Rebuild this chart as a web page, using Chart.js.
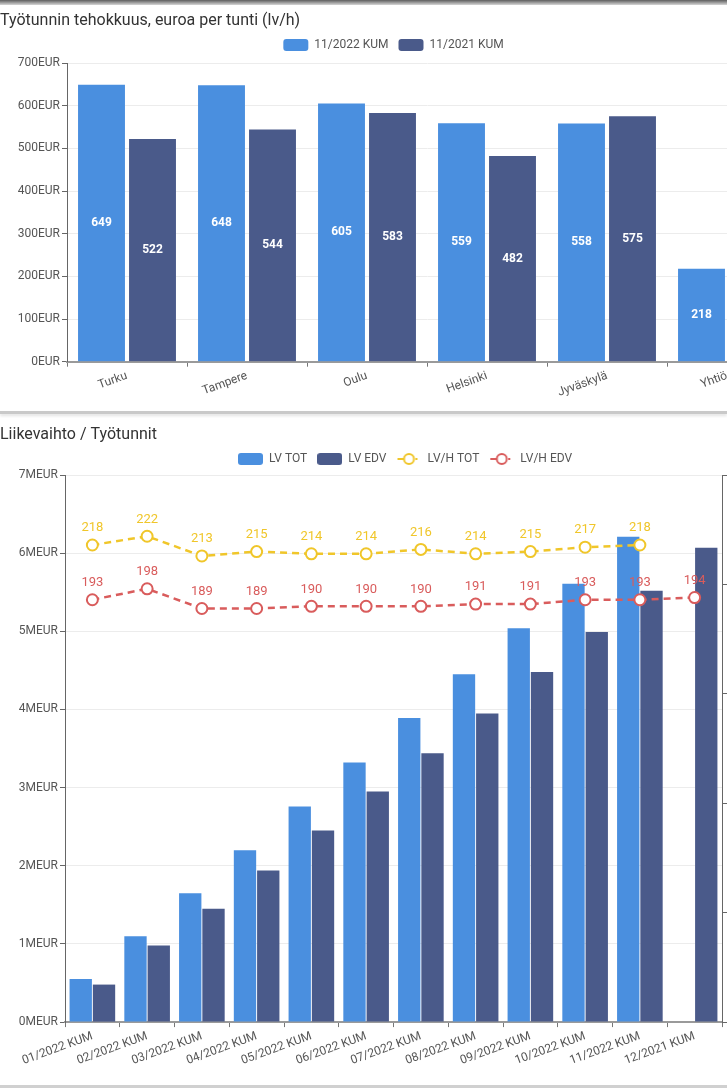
<!DOCTYPE html>
<html>
<head>
<meta charset="utf-8">
<script src="https://cdn.jsdelivr.net/npm/chart.js@4.4.1/dist/chart.umd.min.js"></script>
<style>
  body { margin: 0; width: 727px; height: 1089px; overflow: hidden; background: #fff; font-family: Roboto, sans-serif; }
  .topbar { height: 5px; background: linear-gradient(#5e5e5e, #d6d6d6); }
  .card { position: relative; overflow: hidden; background: #fff; }
  .sep { height: 3px; background: #c9c9c9; box-shadow: 0 2px 3px #e2e2e2; margin-bottom: 4px; }
  .bottom { height: 3px; background: #d0d0d0; }
  canvas { display: block; }
</style>
</head>
<body>
<div class="topbar"></div>
<div class="card" style="height:406px"><canvas id="chart1" width="812" height="406" style="width:812px;height:406px"></canvas></div>
<div class="sep"></div>
<div class="card" style="height:667px"><canvas id="chart2" width="810" height="667" style="width:810px;height:667px"></canvas></div>
<div class="bottom"></div>
<script>
// chart 1 data
const cities = ['Turku', 'Tampere', 'Oulu', 'Helsinki', 'Jyväskylä', 'Yhtiö'];
const eurPerHour2022 = [649, 648, 605, 559, 558, 218];
const eurPerHour2021 = [522, 544, 583, 482, 575, null];

// chart 2 data
const months = ['01/2022 KUM', '02/2022 KUM', '03/2022 KUM', '04/2022 KUM', '05/2022 KUM', '06/2022 KUM',
  '07/2022 KUM', '08/2022 KUM', '09/2022 KUM', '10/2022 KUM', '11/2022 KUM', '12/2021 KUM'];
const lvTot = [0.55, 1.10, 1.65, 2.20, 2.76, 3.32, 3.89, 4.45, 5.04, 5.61, 6.21, null]; // MEUR
const lvEdv = [0.48, 0.98, 1.45, 1.94, 2.45, 2.95, 3.44, 3.95, 4.48, 4.99, 5.52, 6.07]; // MEUR
const lvhTot = [218, 222, 213, 215, 214, 214, 216, 214, 215, 217, 218, null];
const lvhEdv = [193, 198, 189, 189, 190, 190, 190, 191, 191, 193, 193, 194];

const BLUE = '#4a8fdf';
const NAVY = '#4a5a8a';
const YELLOW = '#f0c62a';
const RED = '#d95c5c';
const FONT = 'Roboto';

Chart.defaults.font.family = FONT;
Chart.defaults.font.size = 12;
Chart.defaults.color = '#555';

// value labels in the middle of the bars (chart 1)
const barValueLabels = {
  id: 'barValueLabels',
  afterDatasetsDraw(chart) {
    const ctx = chart.ctx;
    ctx.save();
    ctx.font = 'bold 12px ' + FONT;
    ctx.fillStyle = '#fff';
    ctx.textAlign = 'center';
    ctx.textBaseline = 'middle';
    chart.data.datasets.forEach((ds, i) => {
      chart.getDatasetMeta(i).data.forEach((bar, j) => {
        if (ds.data[j] == null) return;
        const p = bar.getProps(['x', 'y', 'base'], true);
        ctx.fillText(ds.data[j], p.x, (p.y + p.base) / 2);
      });
    });
    ctx.restore();
  }
};

// value labels above the line points (chart 2)
const pointValueLabels = {
  id: 'pointValueLabels',
  afterDatasetsDraw(chart) {
    const ctx = chart.ctx;
    ctx.save();
    ctx.font = '13px ' + FONT;
    ctx.textAlign = 'center';
    ctx.textBaseline = 'middle';
    chart.data.datasets.forEach((ds, i) => {
      if (ds.type !== 'line') return;
      ctx.fillStyle = ds.borderColor;
      chart.getDatasetMeta(i).data.forEach((pt, j) => {
        if (ds.data[j] == null) return;
        ctx.fillText(Math.round(ds.data[j]), pt.x, pt.y - 17);
      });
    });
    ctx.restore();
  }
};

// a bit more room between legend and plot
const legendGap = (extra) => ({
  id: 'legendGap',
  beforeInit(chart) {
    const fit = chart.legend.fit;
    chart.legend.fit = function () {
      fit.call(this);
      this.height += extra;
    };
  }
});

function boxIcon(color) {
  const c = document.createElement('canvas');
  c.width = 25; c.height = 12;
  const g = c.getContext('2d');
  g.fillStyle = color;
  g.beginPath();
  g.roundRect(0, 0, 25, 12, 3);
  g.fill();
  return c;
}
function lineIcon(color) {
  const c = document.createElement('canvas');
  c.width = 25; c.height = 14;
  const g = c.getContext('2d');
  g.strokeStyle = color;
  g.lineWidth = 2;
  g.beginPath(); g.moveTo(1, 7); g.lineTo(7, 7); g.stroke();
  g.beginPath(); g.moveTo(19, 7); g.lineTo(21, 7); g.stroke();
  g.fillStyle = '#fff';
  g.beginPath(); g.arc(12.5, 7, 5, 0, Math.PI * 2); g.fill(); g.stroke();
  return c;
}

new Chart(document.getElementById('chart1'), {
  type: 'bar',
  data: {
    labels: cities,
    datasets: [
      { label: '11/2022 KUM', data: eurPerHour2022, backgroundColor: BLUE, borderColor: BLUE, borderWidth: 0,
        categoryPercentage: 0.85, barPercentage: 0.92 },
      { label: '11/2021 KUM', data: eurPerHour2021, backgroundColor: NAVY, borderColor: NAVY, borderWidth: 0,
        categoryPercentage: 0.85, barPercentage: 0.92 }
    ]
  },
  options: {
    responsive: false,
    animation: false,
    layout: { padding: { left: 0, right: 25, top: 0, bottom: 9 } },
    scales: {
      x: {
        grid: { drawOnChartArea: false, tickLength: 5, tickColor: '#777' },
        border: { color: '#9a9a9a', width: 2 },
        ticks: { minRotation: 20, maxRotation: 20, padding: 2, color: '#555' }
      },
      y: {
        min: 0, max: 700,
        afterFit(scale) { scale.width = 67; },
        grid: { color: '#ececec', tickLength: 5, tickColor: '#666' },
        border: { color: '#666' },
        ticks: { stepSize: 100, padding: 2, color: '#555', callback: v => v + 'EUR' }
      }
    },
    plugins: {
      title: {
        display: true, text: 'Työtunnin tehokkuus, euroa per tunti (lv/h)', align: 'start',
        color: '#333', font: { size: 16, weight: 'normal', lineHeight: 1 }, padding: { top: 8, bottom: 0 }
      },
      legend: {
        labels: { boxWidth: 25, boxHeight: 12, useBorderRadius: true, borderRadius: 3, color: '#555' }
      },
      tooltip: { enabled: false }
    }
  },
  plugins: [barValueLabels, legendGap(2)]
});

const legendIcons = [boxIcon(BLUE), boxIcon(NAVY), lineIcon(YELLOW), lineIcon(RED)];

new Chart(document.getElementById('chart2'), {
  type: 'bar',
  data: {
    labels: months,
    datasets: [
      { label: 'LV TOT', data: lvTot, backgroundColor: BLUE, yAxisID: 'y', order: 2,
        categoryPercentage: 0.85, barPercentage: 0.96 },
      { label: 'LV EDV', data: lvEdv, backgroundColor: NAVY, yAxisID: 'y', order: 2,
        categoryPercentage: 0.85, barPercentage: 0.96 },
      { type: 'line', label: 'LV/H TOT', data: lvhTot, yAxisID: 'y1', order: 1,
        borderColor: YELLOW, backgroundColor: '#fff', borderWidth: 2.5, borderDash: [7, 5],
        pointRadius: 5.5, pointBorderWidth: 2, pointBackgroundColor: '#fff', pointBorderColor: YELLOW },
      { type: 'line', label: 'LV/H EDV', data: lvhEdv, yAxisID: 'y1', order: 1,
        borderColor: RED, backgroundColor: '#fff', borderWidth: 2.5, borderDash: [7, 5],
        pointRadius: 5.5, pointBorderWidth: 2, pointBackgroundColor: '#fff', pointBorderColor: RED }
    ]
  },
  options: {
    responsive: false,
    animation: false,
    layout: { padding: { left: 0, right: 0, top: 0, bottom: 15 } },
    scales: {
      x: {
        grid: { drawOnChartArea: false, tickLength: 5, tickColor: '#777' },
        border: { color: '#9a9a9a', width: 2 },
        ticks: { minRotation: 20, maxRotation: 20, padding: 2, color: '#555' }
      },
      y: {
        position: 'left', min: 0, max: 7,
        afterFit(scale) { scale.width = 65; },
        grid: { color: '#ececec', tickLength: 5, tickColor: '#666' },
        border: { color: '#666' },
        ticks: { stepSize: 1, padding: 2, color: '#555', callback: v => v + 'MEUR' }
      },
      y1: {
        position: 'right', min: 0, max: 250,
        afterFit(scale) { scale.width = 88; },
        grid: { drawOnChartArea: false, tickLength: 5, tickColor: '#666' },
        border: { color: '#666' },
        ticks: { stepSize: 50, padding: 2, color: '#555', callback: v => v + 'EUR' }
      }
    },
    plugins: {
      title: {
        display: true, text: 'Liikevaihto / Työtunnit', align: 'start',
        color: '#333', font: { size: 16, weight: 'normal', lineHeight: 1 }, padding: { top: 9, bottom: 0 }
      },
      legend: {
        labels: {
          usePointStyle: true, pointStyleWidth: 25, boxHeight: 12, color: '#555',
          generateLabels(chart) {
            const items = Chart.defaults.plugins.legend.labels.generateLabels(chart);
            items.sort((a, b) => a.datasetIndex - b.datasetIndex);
            items.forEach(it => { it.pointStyle = legendIcons[it.datasetIndex]; });
            return items;
          }
        }
      },
      tooltip: { enabled: false }
    }
  },
  plugins: [pointValueLabels]
});
</script>
</body>
</html>
